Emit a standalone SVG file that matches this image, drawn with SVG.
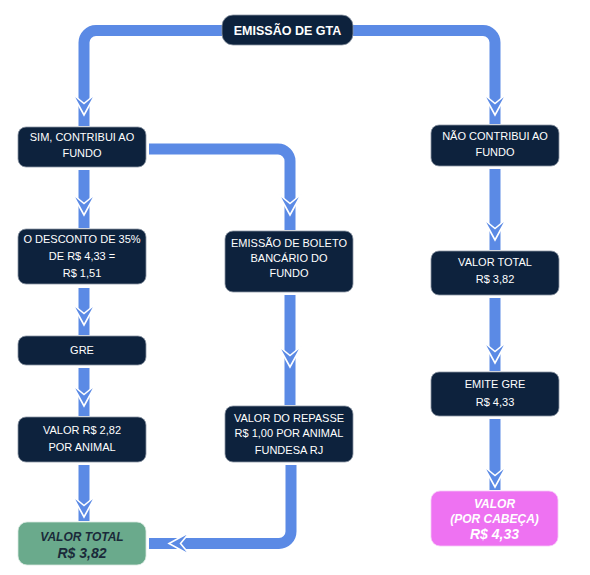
<svg xmlns="http://www.w3.org/2000/svg" xmlns:xlink="http://www.w3.org/1999/xlink" width="590" height="575" viewBox="0 0 590 575">
<style>
.conn{fill:none;stroke:#5b8ae5;stroke-width:11;stroke-linecap:butt}
.box{fill:#0d223d;stroke:#8c96a3;stroke-width:0.8}
.t{font-family:"Liberation Sans",Arial,sans-serif;font-size:11px;fill:#ffffff;text-anchor:middle}
.tb{font-family:"Liberation Sans",Arial,sans-serif;font-size:12.5px;font-weight:bold;fill:#ffffff;text-anchor:middle}
.ti{font-family:"Liberation Sans",Arial,sans-serif;font-size:12px;font-style:italic;font-weight:bold;text-anchor:middle}
.tbig{font-family:"Liberation Sans",Arial,sans-serif;font-size:14px;font-style:italic;font-weight:bold;text-anchor:middle}
</style>
<defs>
<polygon id="arr" points="-11.5,-21 0,-11.5 11.5,-21 0,0" fill="#5b8ae5" stroke="#ffffff" stroke-width="1.6" stroke-linejoin="miter"/>
</defs>
<rect width="590" height="575" fill="#ffffff"/>
<g id="connectors">
<path class="conn" d="M222,30.5 H96 A12,12 0 0 0 84,42.5 V126"/>
<path class="conn" d="M353,30.5 H483 A12,12 0 0 1 495,42.5 V124"/>
<path class="conn" d="M84,170 V228"/>
<path class="conn" d="M149,149 H278 A12,12 0 0 1 290,161 V230"/>
<path class="conn" d="M495,169 V250"/>
<path class="conn" d="M84,288 V335"/>
<path class="conn" d="M290,295 V405"/>
<path class="conn" d="M495,298 V371"/>
<path class="conn" d="M84,368 V416"/>
<path class="conn" d="M84,465 V521"/>
<path class="conn" d="M495,419 V490"/>
<path class="conn" d="M291,465 V531.5 A12,12 0 0 1 279,543.5 H149"/>
<use xlink:href="#arr" href="#arr" transform="translate(84,115)"/>
<use xlink:href="#arr" href="#arr" transform="translate(495,115)"/>
<use xlink:href="#arr" href="#arr" transform="translate(84,215)"/>
<use xlink:href="#arr" href="#arr" transform="translate(290,215)"/>
<use xlink:href="#arr" href="#arr" transform="translate(495,240)"/>
<use xlink:href="#arr" href="#arr" transform="translate(84,325)"/>
<use xlink:href="#arr" href="#arr" transform="translate(290,367)"/>
<use xlink:href="#arr" href="#arr" transform="translate(495,363)"/>
<use xlink:href="#arr" href="#arr" transform="translate(84,406)"/>
<use xlink:href="#arr" href="#arr" transform="translate(84,517)"/>
<use xlink:href="#arr" href="#arr" transform="translate(495,487)"/>
<use xlink:href="#arr" href="#arr" transform="translate(169,543.5) rotate(90)"/>
</g>
<g id="gta">
<rect class="box" x="222" y="15" width="131" height="30" rx="11"/>
<text class="tb" x="287.5" y="35">EMISSÃO DE GTA</text>
</g>
<g id="sim">
<rect class="box" x="18" y="127" width="128" height="40" rx="8"/>
<text class="t" x="82" y="141">SIM, CONTRIBUI AO</text>
<text class="t" x="82" y="157">FUNDO</text>
</g>
<g id="nao">
<rect class="box" x="431" y="125" width="128" height="41" rx="8"/>
<text class="t" x="495" y="140">NÃO CONTRIBUI AO</text>
<text class="t" x="495" y="156">FUNDO</text>
</g>
<g id="desconto">
<rect class="box" x="18" y="229" width="128" height="55" rx="8"/>
<text class="t" x="82" y="243">O DESCONTO DE 35%</text>
<text class="t" x="82" y="260">DE R$ 4,33 =</text>
<text class="t" x="82" y="277">R$ 1,51</text>
</g>
<g id="boleto">
<rect class="box" x="225" y="231" width="128" height="61" rx="8"/>
<text class="t" x="289" y="247">EMISSÃO DE BOLETO</text>
<text class="t" x="289" y="262">BANCÁRIO DO</text>
<text class="t" x="289" y="277">FUNDO</text>
</g>
<g id="valortotal-direita">
<rect class="box" x="431" y="251" width="128" height="44" rx="8"/>
<text class="t" x="495" y="266">VALOR TOTAL</text>
<text class="t" x="495" y="283">R$ 3,82</text>
</g>
<g id="gre">
<rect class="box" x="18" y="336" width="128" height="29" rx="8"/>
<text class="t" x="82" y="354">GRE</text>
</g>
<g id="emite-gre">
<rect class="box" x="431" y="372" width="128" height="44" rx="8"/>
<text class="t" x="495" y="388">EMITE GRE</text>
<text class="t" x="495" y="406">R$ 4,33</text>
</g>
<g id="valor-282">
<rect class="box" x="18" y="417" width="128" height="45" rx="8"/>
<text class="t" x="82" y="434">VALOR R$ 2,82</text>
<text class="t" x="82" y="451">POR ANIMAL</text>
</g>
<g id="repasse">
<rect class="box" x="225" y="406" width="128" height="56" rx="8"/>
<text class="t" x="289" y="422">VALOR DO REPASSE</text>
<text class="t" x="289" y="437">R$ 1,00 POR ANIMAL</text>
<text class="t" x="289" y="454">FUNDESA RJ</text>
</g>
<g id="valortotal-verde">
<rect x="18" y="522" width="128" height="43" rx="9" fill="#6aaa8c" stroke="#d8e8df" stroke-width="0.8"/>
<text class="ti" x="82" y="541" fill="#1b2a3a">VALOR TOTAL</text>
<text class="tbig" x="82" y="558" fill="#1b2a3a">R$ 3,82</text>
</g>
<g id="valor-cabeca">
<rect x="431" y="491" width="127" height="55" rx="9" fill="#ee72f2" stroke="#f6c6f8" stroke-width="0.8"/>
<text class="ti" x="494.5" y="508" fill="#ffffff">VALOR</text>
<text class="ti" x="494.5" y="523" fill="#ffffff">(POR CABEÇA)</text>
<text class="tbig" x="494.5" y="539" fill="#ffffff">R$ 4,33</text>
</g>
</svg>
